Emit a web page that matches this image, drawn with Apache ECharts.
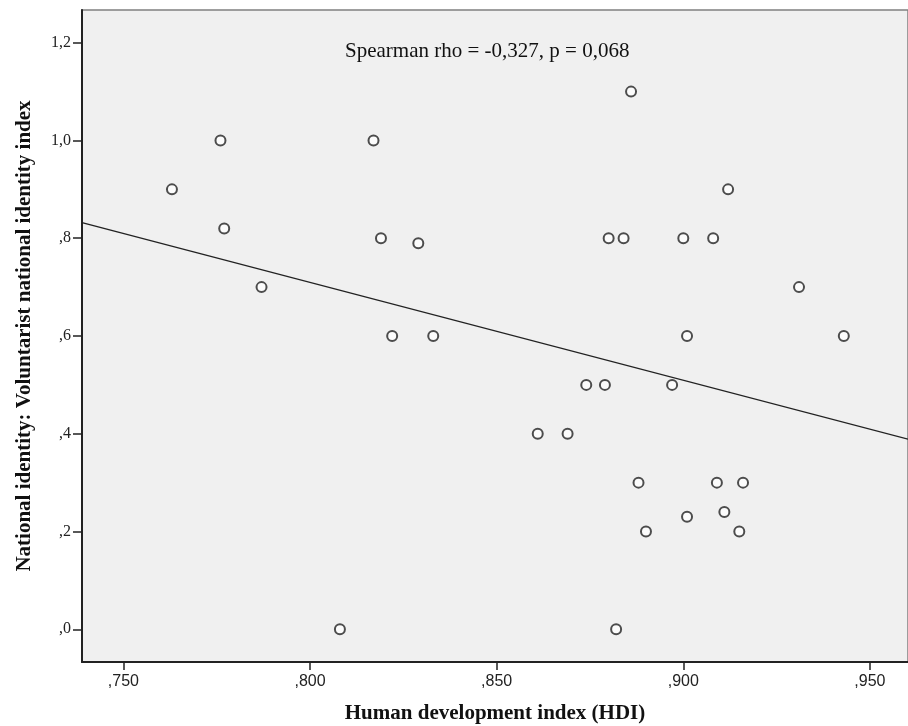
<!DOCTYPE html>
<html>
<head>
<meta charset="utf-8">
<script src="https://cdn.jsdelivr.net/npm/echarts@6/dist/echarts.min.js"></script>
<style>
  html, body { margin: 0; padding: 0; background: #fff; }
  #chart { width: 908px; height: 726px; }
</style>
</head>
<body>
<div id="chart"></div>
<script>
// HDI (x) vs voluntarist national identity index (y)
let hdi = [0.763, 0.776, 0.777, 0.787, 0.808, 0.817, 0.819, 0.822, 0.829, 0.833,
    0.861, 0.869, 0.874, 0.879, 0.880, 0.882, 0.884, 0.886, 0.888, 0.890,
    0.897, 0.900, 0.901, 0.901, 0.908, 0.909, 0.911, 0.912, 0.915, 0.916,
    0.931, 0.943];
let identity = [0.90, 1.00, 0.82, 0.70, 0.00, 1.00, 0.80, 0.60, 0.79, 0.60,
    0.40, 0.40, 0.50, 0.50, 0.80, 0.00, 0.80, 1.10, 0.30, 0.20,
    0.50, 0.80, 0.60, 0.23, 0.80, 0.30, 0.24, 0.90, 0.20, 0.30,
    0.70, 0.60];

// fit line end points
let fitX = [0.7389, 0.9602];
let fitY = [0.832, 0.389];

let xTicks = [0.750, 0.800, 0.850, 0.900, 0.950];
let yTicks = [0.0, 0.2, 0.4, 0.6, 0.8, 1.0, 1.2];

let note = 'Spearman rho = -0,327, p = 0,068';

function spssFmt(v, d) {
    let s = v.toFixed(d).replace('.', ',');
    if (s.indexOf('0,') === 0) s = s.slice(1); // ,750 style
    return s;
}

let myChart = echarts.init(document.getElementById('chart'));

let option = {
    animation: false,
    backgroundColor: '#fff',
    grid: {
        left: 82,
        right: 0,
        top: 10,
        bottom: 64,
        outerBoundsMode: 'none',
        show: true,
        backgroundColor: '#f0f0f0',
        borderColor: '#808080',
        borderWidth: 1.5
    },
    graphic: [{
        type: 'text',
        left: 345,
        top: 41,
        style: {
            text: note,
            fill: '#111',
            font: '21px "Liberation Serif"'
        }
    }],
    xAxis: {
        type: 'value',
        min: 0.7389,
        max: 0.9602,
        splitNumber: 5,
        name: 'Human development index (HDI)',
        nameLocation: 'middle',
        nameGap: 41,
        nameTextStyle: {
            fontFamily: 'Liberation Serif',
            fontWeight: 'bold',
            fontSize: 21,
            color: '#111'
        },
        axisLine: { onZero: false, lineStyle: { color: '#222', width: 2 } },
        axisTick: { show: true, length: 8, customValues: xTicks, lineStyle: { color: '#222', width: 1.5 } },
        axisLabel: {
            customValues: xTicks,
            margin: 12,
            fontFamily: 'Liberation Sans',
            fontSize: 16,
            color: '#222',
            formatter: v => spssFmt(v, 3)
        },
        splitLine: { show: false }
    },
    yAxis: {
        type: 'value',
        min: -0.067,
        max: 1.267,
        splitNumber: 7,
        name: 'National identity: Voluntarist national identity index',
        nameLocation: 'middle',
        nameRotate: 90,
        nameGap: 47,
        nameTextStyle: {
            fontFamily: 'Liberation Serif',
            fontWeight: 'bold',
            fontSize: 21,
            color: '#111'
        },
        axisLine: { onZero: false, lineStyle: { color: '#222', width: 2 } },
        axisTick: { show: true, length: 9, customValues: yTicks, lineStyle: { color: '#222', width: 1.5 } },
        axisLabel: {
            customValues: yTicks,
            margin: 11,
            fontFamily: 'Liberation Serif',
            fontSize: 16,
            color: '#222',
            formatter: v => spssFmt(v, 1)
        },
        splitLine: { show: false }
    },
    series: [
        {
            type: 'line',
            data: fitX.map((x, i) => [x, fitY[i]]),
            symbol: 'none',
            lineStyle: { color: '#222', width: 1.3 },
            z: 2
        },
        {
            type: 'scatter',
            data: hdi.map((x, i) => [x, identity[i]]),
            symbol: 'emptyCircle',
            symbolSize: 10,
            itemStyle: { color: '#222', borderColor: '#222', borderWidth: 1.6 },
            z: 3
        }
    ]
};

myChart.setOption(option);
</script>
</body>
</html>
